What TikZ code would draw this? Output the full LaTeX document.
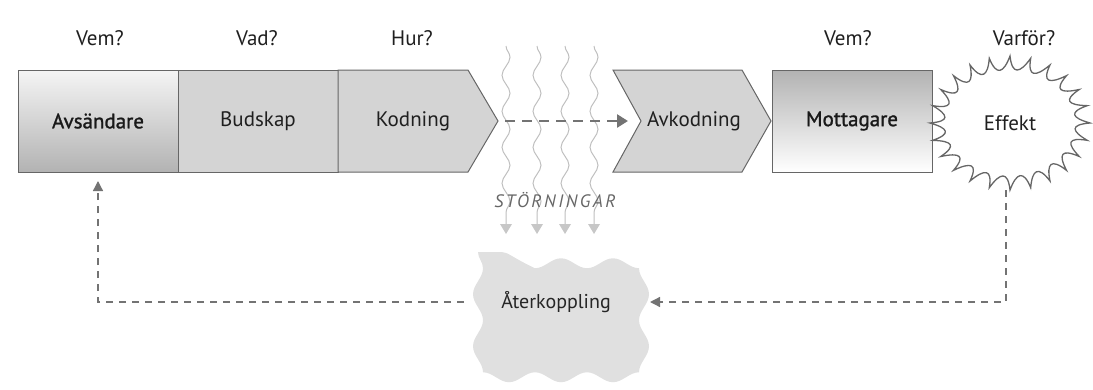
\documentclass[tikz,border=0pt]{standalone}
\usepackage{fontspec}
\setmainfont{PT Sans}
\usetikzlibrary{decorations.pathmorphing,arrows.meta,calc}
\begin{document}
\begin{tikzpicture}[x=1pt,y=-1pt,
  big/.style={font=\fontsize{21}{24}\selectfont, text=black!88},
  semi/.style={font=\fontsize{21}{24}\selectfont\addfontfeature{FakeBold=1.2}, text=black!90},
  lbl/.style={big},
  box/.style={draw=black!60, line width=1pt, minimum height=102pt, minimum width=160pt,
              inner sep=0pt, outer sep=0pt, big},
  shp/.style={draw=black!60, line width=1pt, fill=black!17},
  flow/.style={draw=black!55, line width=2.6pt, dash pattern=on 10pt off 7pt,
               -{Triangle[length=11pt,width=13pt]}},
  fb/.style={draw=black!55, line width=1.3pt, dash pattern=on 7pt off 6pt},
  noise/.style={draw=black!25, line width=1pt, decorate,
                decoration={snake, amplitude=4pt, segment length=36pt}},
  noisetip/.style={fill=black!22},
  blob/.style={fill=black!12, decorate, decoration={snake, amplitude=5pt, segment length=52pt}},
  burst/.style={draw=black!60, line width=1.3pt}
]
\useasboundingbox (0,0) rectangle (1093,389);

% questions
\node[lbl] (q1) at (100,38) {Vem?};
\node[lbl] (q2) at (257,38) {Vad?};
\node[lbl] (q3) at (412,38) {Hur?};
\node[lbl] (q4) at (848,38) {Vem?};
\node[lbl] (q5) at (1024,38) {Varför?};

% noise lines
\foreach \x in {506,537,565,594}{
  \draw[noise] (\x,46) -- (\x,224);
  \fill[noisetip] (\x-6,224) -- (\x+6,224) -- (\x,234) -- cycle;
}
\node[font=\fontsize{18}{21}\selectfont\itshape\addfontfeature{LetterSpace=14}, text=black!60] (st) at (555,200) {STÖRNINGAR};

% feedback blob
\fill[blob] (478,252) rectangle (634,358);
\node[font=\fontsize{20}{23}\selectfont, text=black!85] (ater) at (556,302) {Återkoppling};

% main chain
\node[box, top color=black!4, bottom color=black!30, semi] (avs) at (98,121) {Avsändare};
\node[box, fill=black!17] (bud) at (258,121) {Budskap};
\draw[shp] (338,70) -- (468,70) -- (498,121) -- (468,172) -- (338,172) -- cycle;
\node[big] (kod) at (413,121) {Kodning};
\coordinate (kodtip) at (505,121);
\draw[shp] (613,70) -- (742,70) -- (771,121) -- (742,172) -- (613,172) -- (641,121) -- cycle;
\node[big] (avk) at (694,121) {Avkodning};
\node[box, top color=black!30, bottom color=white, semi] (mot) at (852,121) {Mottagare};

% effect burst
\node[lbl] (eff) at (1010,123) {Effekt};
\begin{scope}[shift={(eff.center)}]
\draw[burst] (0:80 and 67)
  \foreach \i in {1,...,24}{
    .. controls ({(\i-1)*15+2}:60 and 48) and ({\i*15-6}:62 and 50) .. ({\i*15}:80 and 67)
  } -- cycle;
\end{scope}

% connectors
\coordinate (akin) at (628,121);
\draw[flow] (kodtip) -- (akin);

\coordinate (effb) at (1006,190);
\coordinate (aterR) at (650,302);
\coordinate (aterL) at (464,302);
\draw[fb, -{Triangle[length=10pt,width=10pt]}] (effb) |- (aterR);
\draw[fb, -{Triangle[length=10pt,width=10pt]}, shorten >=9pt] (aterL) -| (avs.south);
\end{tikzpicture}
\end{document}
